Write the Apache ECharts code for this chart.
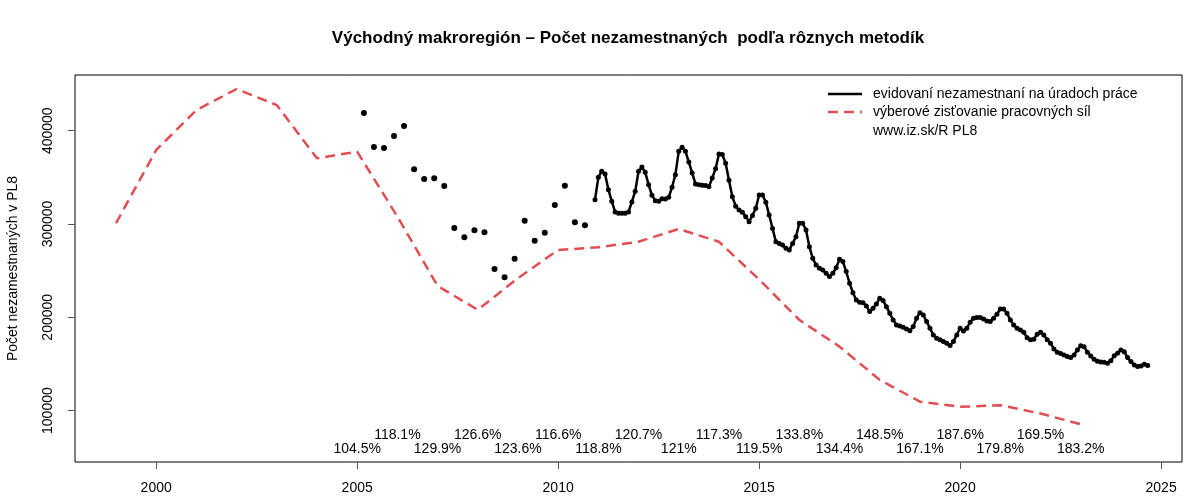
<!DOCTYPE html>
<html>
<head>
<meta charset="utf-8">
<script src="https://cdn.jsdelivr.net/npm/echarts@6/dist/echarts.min.js"></script>
<style>html,body{margin:0;padding:0;background:#fff}#c{width:1200px;height:500px}</style>
</head>
<body>
<div id="c"></div>
<script>
// ---- data ----
const titleText = 'Východný makroregión – Počet nezamestnaných  podľa rôznych metodík';
const yAxisTitle = 'Počet nezamestnaných v PL8';
const legendTexts = ['evidovaní nezamestnaní na úradoch práce', 'výberové zisťovanie pracovných síl', 'www.iz.sk/R PL8'];

const xTicks = [2000, 2005, 2010, 2015, 2020, 2025];
const yTicks = [100000, 200000, 300000, 400000];

// Labour force survey, annual (1999..2023)
const lfsYears = [1999,2000,2001,2002,2003,2004,2005,2006,2007,2008,2009,2010,2011,2012,2013,2014,2015,2016,2017,2018,2019,2020,2021,2022,2023];
const lfsValues = [300800,379300,422000,444700,427500,370400,377500,308000,233600,208000,242000,272200,275000,281000,294700,281000,240500,197200,168600,132900,109600,104000,105800,96800,85400];

// Registered unemployed, quarterly points Mar 2005 .. Sep 2010
const quarterlyStart = [2005, 3];
const quarterlyValues = [419000,382500,381500,394300, 405000,358600,348200,349000, 340800,295700,285800,293300,
  291100,251800,242900,262800, 303600,282100,290700,320400, 341100,301900,298600];

// Registered unemployed, monthly Dec 2010 .. Sep 2024
const monthlyStart = [2010, 12];
const monthlyValues = [
  326100,
  350000,356500,353600,336800,324400,312900,311500,311500,311500,312900,323600,335000,
  356500,361100,355400,342200,330800,325000,324400,327100,326800,328600,339400,352900,
  377900,382200,377900,366500,354700,342900,342200,341500,341200,340000,349300,359300,
  375000,374500,365000,347000,329300,319000,315000,312600,307900,302500,309000,316900,
  331100,331100,323400,309700,295100,281100,279200,277500,274000,272200,279200,286400,
  300800,300800,293600,275700,263300,256100,252600,250700,247200,243600,247200,253000,
  262200,259700,249000,236500,226400,218600,216100,215700,212200,206100,209700,214300,
  220400,217900,211400,204400,197200,191800,190800,189400,187500,185700,190000,199000,
  205000,202500,195400,188300,181100,177600,175800,174000,172200,169700,174000,181100,
  188300,185400,188300,194700,199000,199700,199700,198300,196100,195400,199000,203300,
  209000,209000,204400,197200,191800,188300,186500,184000,178200,175800,176500,181800,
  184000,181100,175800,172200,166100,162600,161100,159700,157900,156800,159700,165000,
  169500,168500,162600,158600,155100,152900,152200,151900,150800,153300,158900,161500,
  165000,163200,156800,152500,149000,147200,147900,149700,148200
];

// ratio annotations (registered / LFS)
const ratioYears = [2005,2006,2007,2008,2009,2010,2011,2012,2013,2014,2015,2016,2017,2018,2019,2020,2021,2022,2023];
const ratioTexts = ['104.5%','118.1%','129.9%','126.6%','123.6%','116.6%','118.8%','120.7%','121%','117.3%','119.5%','133.8%','134.4%','148.5%','167.1%','187.6%','179.8%','169.5%','183.2%'];

// ---- build ----
const FONT = 'Liberation Sans, Arial, Helvetica, sans-serif';
const RED = '#E04E52';
const monthX = (y, m) => y + (m - 1) / 12;
const qData = quarterlyValues.map((v, i) => [monthX(quarterlyStart[0], quarterlyStart[1]) + i * 0.25, v]);
const mData = monthlyValues.map((v, i) => [monthX(monthlyStart[0], monthlyStart[1]) + i / 12, v]);
const lfsData = lfsYears.map((y, i) => [y, lfsValues[i]]);
const rowY = [59000, 74000];
const ratioData = ratioYears.map((y, i) => ({ value: [y, rowY[(y - 2005) % 2]], label: { formatter: ratioTexts[i] } }));

const chart = echarts.init(document.getElementById('c'), null, { renderer: 'canvas' });
chart.setOption({
  animation: false,
  backgroundColor: '#fff',
  grid: { left: 75, right: 18, top: 75, bottom: 38, containLabel: false, outerBoundsMode: 'none',
          show: true, borderColor: '#000', borderWidth: 1, backgroundColor: 'transparent' },
  xAxis: {
    type: 'value', min: 1997.98, max: 2025.52,
    axisLine: { show: false },
    splitLine: { show: false },
    axisTick: { show: true, length: 7, lineStyle: { color: '#555' }, customValues: xTicks },
    axisLabel: { customValues: xTicks, fontFamily: FONT, fontSize: 14, color: '#000', margin: 19, formatter: v => String(v) }
  },
  yAxis: {
    type: 'value', min: 44900, max: 459700,
    name: yAxisTitle, nameLocation: 'middle', nameGap: 55, nameRotate: 90,
    nameTextStyle: { fontFamily: FONT, fontSize: 14, color: '#000' },
    axisLine: { show: false },
    splitLine: { show: false },
    axisTick: { show: true, length: 7, lineStyle: { color: '#555' }, customValues: yTicks },
    axisLabel: { customValues: yTicks, rotate: 90, fontFamily: FONT, fontSize: 14, color: '#000', margin: 20, formatter: v => String(v) }
  },
  series: [
    { type: 'line', data: lfsData, showSymbol: false, symbol: 'none', lineStyle: { color: RED, width: 2.5, type: [10, 6] }, z: 2 },
    { type: 'scatter', data: qData, symbol: 'circle', symbolSize: 6, itemStyle: { color: '#000', opacity: 1 }, z: 3 },
    { type: 'line', data: mData, symbol: 'circle', symbolSize: 5, showSymbol: true, itemStyle: { color: '#000', opacity: 1 }, lineStyle: { color: '#000', width: 2.5 }, z: 3 },
    { type: 'scatter', data: ratioData, symbolSize: 0, silent: true, itemStyle: { opacity: 1 },
      label: { show: true, position: 'inside', fontFamily: FONT, fontSize: 14, color: '#000' }, z: 4 }
  ],
  graphic: [
    { type: 'text', x: 628, y: 38, style: { text: titleText, font: 'bold 17px ' + FONT, fill: '#000', textAlign: 'center', textVerticalAlign: 'middle' } },
    { type: 'line', shape: { x1: 828, y1: 94, x2: 862, y2: 94 }, style: { stroke: '#000', lineWidth: 2.5 } },
    { type: 'line', shape: { x1: 828, y1: 112, x2: 862, y2: 112 }, style: { stroke: RED, lineWidth: 2.5, lineDash: [10, 6] } },
    { type: 'text', x: 873, y: 94, style: { text: legendTexts[0], font: '14px ' + FONT, fill: '#000', textVerticalAlign: 'middle' } },
    { type: 'text', x: 873, y: 112, style: { text: legendTexts[1], font: '14px ' + FONT, fill: '#000', textVerticalAlign: 'middle' } },
    { type: 'text', x: 873, y: 131, style: { text: legendTexts[2], font: '14px ' + FONT, fill: '#000', textVerticalAlign: 'middle' } }
  ]
});
</script>
</body>
</html>
